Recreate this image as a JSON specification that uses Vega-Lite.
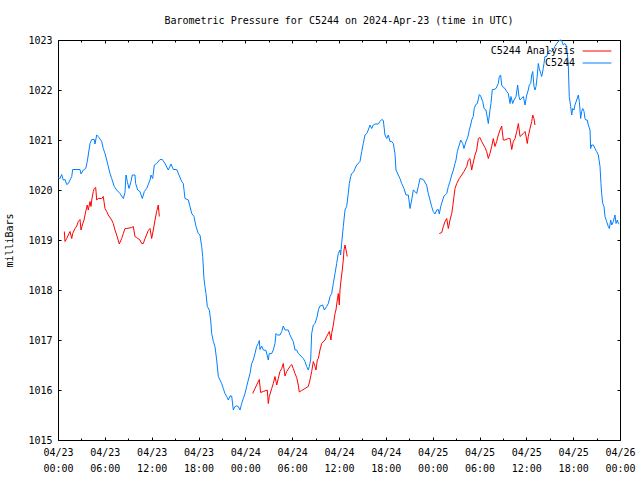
{
"$schema": "https://vega.github.io/schema/vega-lite/v6.json",
"width": 562, "height": 400,
"autosize": {"type": "none"},
"padding": {"left": 58, "top": 40, "right": 20, "bottom": 40},
"background": "white",
"title": {"text": "Barometric Pressure for C5244 on 2024-Apr-23 (time in UTC)", "font": "DejaVu Sans Mono", "fontSize": 10, "fontWeight": "normal", "color": "black", "offset": 9, "anchor": "middle"},
"config": {"view": {"stroke": "black", "strokeWidth": 1}, "font": "DejaVu Sans Mono"},
"datasets": {
"b": [
{"h":0,"v":1020.25},{"h":0.26,"v":1020.23},{"h":0.47,"v":1020.31},{"h":0.68,"v":1020.2},{"h":0.9,"v":1020.21},{"h":1.11,"v":1020.11},{"h":1.32,"v":1020.13},{"h":1.76,"v":1020.27},{"h":1.88,"v":1020.41},{"h":2.82,"v":1020.41},{"h":2.95,"v":1020.32},{"h":3.24,"v":1020.4},{"h":3.55,"v":1020.43},{"h":3.75,"v":1020.57},{"h":4.1,"v":1020.93},{"h":4.32,"v":1021.01},{"h":4.65,"v":1021.01},{"h":4.74,"v":1020.92},{"h":4.96,"v":1021.1},{"h":5.16,"v":1021.07},{"h":5.6,"v":1020.97},{"h":5.8,"v":1020.83},{"h":6.02,"v":1020.73},{"h":6.24,"v":1020.6},{"h":6.44,"v":1020.47},{"h":6.66,"v":1020.33},{"h":6.88,"v":1020.23},{"h":7.21,"v":1020.07},{"h":7.52,"v":1020.0},{"h":7.94,"v":1019.93},{"h":8.37,"v":1019.83},{"h":8.58,"v":1019.95},{"h":8.71,"v":1020.3},{"h":8.88,"v":1020.17},{"h":9.1,"v":1020.03},{"h":9.35,"v":1020.17},{"h":9.52,"v":1020.3},{"h":9.86,"v":1020.3},{"h":9.95,"v":1020.13},{"h":10.21,"v":1020.0},{"h":10.5,"v":1019.97},{"h":10.8,"v":1019.83},{"h":11.06,"v":1019.97},{"h":11.36,"v":1020.03},{"h":11.79,"v":1020.2},{"h":11.91,"v":1020.3},{"h":12.13,"v":1020.23},{"h":12.34,"v":1020.5},{"h":12.64,"v":1020.53},{"h":13.07,"v":1020.61},{"h":13.36,"v":1020.61},{"h":13.71,"v":1020.53},{"h":14.13,"v":1020.4},{"h":14.48,"v":1020.52},{"h":14.77,"v":1020.41},{"h":15.21,"v":1020.41},{"h":15.5,"v":1020.3},{"h":15.85,"v":1020.17},{"h":16.05,"v":1020.13},
{"h":16.27,"v":1019.83},{"h":16.7,"v":1019.8},{"h":16.91,"v":1019.67},{"h":17.13,"v":1019.53},{"h":17.42,"v":1019.47},{"h":17.68,"v":1019.27},{"h":17.97,"v":1019.13},{"h":18.19,"v":1019.1},{"h":18.41,"v":1018.87},{"h":18.54,"v":1018.67},{"h":18.7,"v":1018.23},{"h":18.83,"v":1018.07},{"h":18.96,"v":1017.93},{"h":19.13,"v":1017.67},{"h":19.38,"v":1017.6},{"h":19.56,"v":1017.4},{"h":19.69,"v":1017.13},{"h":19.9,"v":1016.97},{"h":20.11,"v":1016.87},{"h":20.33,"v":1016.6},{"h":20.54,"v":1016.27},{"h":20.75,"v":1016.2},{"h":20.97,"v":1016.13},{"h":21.18,"v":1016.03},{"h":21.39,"v":1015.93},{"h":21.61,"v":1015.87},{"h":21.82,"v":1015.8},{"h":22.04,"v":1015.88},{"h":22.25,"v":1015.88},{"h":22.46,"v":1015.6},{"h":22.68,"v":1015.67},{"h":22.89,"v":1015.68},{"h":23.1,"v":1015.67},{"h":23.32,"v":1015.6},{"h":23.53,"v":1015.73},{"h":23.74,"v":1015.83},{"h":23.96,"v":1015.93},{"h":24.17,"v":1016.07},{"h":24.38,"v":1016.2},{"h":24.6,"v":1016.33},{"h":24.81,"v":1016.53},{"h":25.02,"v":1016.6},{"h":25.24,"v":1016.73},{"h":25.45,"v":1016.87},{"h":25.66,"v":1016.93},{"h":25.79,"v":1016.99},{"h":25.88,"v":1016.81},{"h":26.09,"v":1016.88},{"h":26.3,"v":1016.8},{"h":26.65,"v":1016.79},{"h":26.94,"v":1016.6},{"h":27.07,"v":1016.73},{"h":27.38,"v":1016.73},{"h":27.58,"v":1016.8},{"h":27.8,"v":1016.93},{"h":27.93,"v":1017.13},{"h":28.09,"v":1017.1},{"h":28.44,"v":1017.1},{"h":28.66,"v":1017.17},{"h":28.86,"v":1017.28},{"h":29.08,"v":1017.2},{"h":29.5,"v":1017.2},{"h":29.72,"v":1017.1},{"h":30.14,"v":1016.97},{"h":30.36,"v":1016.8},
{"h":30.58,"v":1016.8},{"h":30.78,"v":1016.73},{"h":31.0,"v":1016.7},{"h":31.43,"v":1016.63},{"h":31.64,"v":1016.57},{"h":31.86,"v":1016.47},{"h":32.07,"v":1016.4},{"h":32.19,"v":1016.47},{"h":32.37,"v":1016.6},{"h":32.5,"v":1017.13},{"h":32.71,"v":1017.3},{"h":32.93,"v":1017.33},{"h":33.22,"v":1017.48},{"h":33.35,"v":1017.6},{"h":33.56,"v":1017.68},{"h":33.91,"v":1017.7},{"h":34.12,"v":1017.6},{"h":34.42,"v":1017.67},{"h":34.63,"v":1017.73},
{"h":34.85,"v":1017.87},{"h":35.06,"v":1017.93},{"h":35.27,"v":1018.13},{"h":35.49,"v":1018.33},{"h":35.7,"v":1018.53},{"h":35.91,"v":1018.73},{"h":36.13,"v":1018.8},{"h":36.21,"v":1018.7},{"h":36.34,"v":1018.93},{"h":36.55,"v":1019.27},{"h":36.77,"v":1019.6},{"h":36.98,"v":1019.67},{"h":37.19,"v":1019.93},{"h":37.32,"v":1020.13},{"h":37.5,"v":1020.27},{"h":37.63,"v":1020.33},{"h":37.92,"v":1020.37},{"h":38.05,"v":1020.43},{"h":38.27,"v":1020.5},{"h":38.69,"v":1020.57},{"h":38.91,"v":1020.77},{"h":39.11,"v":1020.93},{"h":39.33,"v":1021.1},{"h":39.55,"v":1021.13},{"h":39.75,"v":1021.2},{"h":39.97,"v":1021.3},{"h":40.19,"v":1021.23},{"h":40.39,"v":1021.3},{"h":40.61,"v":1021.32},{"h":41.03,"v":1021.32},{"h":41.25,"v":1021.37},{"h":41.47,"v":1021.41},{"h":41.68,"v":1021.39},{"h":41.89,"v":1021.1},{"h":42.11,"v":1021.03},{"h":42.32,"v":1021.1},{"h":42.53,"v":1020.97},{"h":42.75,"v":1020.97},{"h":42.96,"v":1020.93},{"h":43.17,"v":1020.73},{"h":43.3,"v":1020.4},{"h":43.6,"v":1020.3},{"h":43.81,"v":1020.23},{"h":44.03,"v":1020.13},{"h":44.33,"v":1020.03},{"h":44.58,"v":1019.9},{"h":44.88,"v":1019.9},{"h":45.1,"v":1019.63},{"h":45.31,"v":1019.8},{"h":45.52,"v":1020.0},{"h":45.74,"v":1019.97},{"h":45.95,"v":1019.93},{"h":46.16,"v":1020.07},
{"h":46.38,"v":1020.23},{"h":46.8,"v":1020.21},{"h":47.23,"v":1020.1},{"h":47.44,"v":1019.93},{"h":47.66,"v":1019.8},{"h":47.87,"v":1019.67},{"h":48.08,"v":1019.57},{"h":48.3,"v":1019.52},{"h":48.52,"v":1019.6},{"h":48.72,"v":1019.61},{"h":48.85,"v":1019.52},{"h":49.03,"v":1019.67},{"h":49.28,"v":1019.8},{"h":49.45,"v":1019.88},{"h":49.8,"v":1019.93},{"h":50.01,"v":1020.07},{"h":50.22,"v":1020.17},{"h":50.44,"v":1020.3},{"h":50.65,"v":1020.4},{"h":50.86,"v":1020.53},{"h":50.99,"v":1020.6},{"h":51.16,"v":1020.77},{"h":51.41,"v":1020.9},{"h":51.59,"v":1021.0},{"h":51.85,"v":1020.93},{"h":52.01,"v":1020.83},{"h":52.27,"v":1020.97},{"h":52.44,"v":1021.03},{"h":52.57,"v":1021.1},{"h":52.69,"v":1021.2},{"h":52.87,"v":1021.3},{"h":53.0,"v":1021.4},{"h":53.2,"v":1021.47},{"h":53.33,"v":1021.63},{"h":53.51,"v":1021.71},{"h":53.72,"v":1021.73},{"h":53.97,"v":1021.91},{"h":54.15,"v":1021.88},{"h":54.41,"v":1021.77},{"h":54.58,"v":1021.63},{"h":54.83,"v":1021.6},{"h":55.13,"v":1021.33},{"h":55.34,"v":1021.6},{"h":55.47,"v":1021.73},{"h":55.64,"v":1022.01},{"h":55.86,"v":1022.01},{"h":56.11,"v":1022.03},{"h":56.41,"v":1022.13},{"h":56.54,"v":1022.27},{"h":56.71,"v":1022.3},{"h":56.84,"v":1022.1},{"h":57.05,"v":1022.05},{"h":57.27,"v":1022.03},{"h":57.48,"v":1021.97},{"h":57.69,"v":1021.93},{"h":57.91,"v":1021.73},{"h":58.03,"v":1021.87},{"h":58.25,"v":1021.73},{"h":58.42,"v":1021.8},{"h":58.68,"v":1021.87},{"h":58.89,"v":1022.1},{"h":59.06,"v":1021.87},
{"h":59.19,"v":1021.8},{"h":59.62,"v":1021.87},{"h":59.83,"v":1021.7},{"h":60.05,"v":1021.9},{"h":60.25,"v":1022.0},{"h":60.38,"v":1022.1},{"h":60.56,"v":1022.13},{"h":60.69,"v":1022.3},{"h":60.82,"v":1022.37},{"h":60.98,"v":1022.07},{"h":61.11,"v":1022.0},{"h":61.24,"v":1022.07},{"h":61.41,"v":1022.3},{"h":61.53,"v":1022.53},{"h":61.66,"v":1022.43},{"h":61.84,"v":1022.33},{"h":61.97,"v":1022.27},{"h":62.17,"v":1022.43},{"h":62.26,"v":1022.53},{"h":62.39,"v":1022.67},{"h":62.61,"v":1022.67},{"h":62.81,"v":1022.77},{"h":63.03,"v":1022.79},{"h":63.25,"v":1022.77},{"h":63.45,"v":1022.8},{"h":63.67,"v":1022.87},{"h":63.89,"v":1022.93},{"h":64.09,"v":1022.97},{"h":64.31,"v":1023.0},{"h":64.53,"v":1022.99},{"h":64.73,"v":1022.9},{"h":64.95,"v":1022.93},{"h":65.17,"v":1022.87},{"h":65.37,"v":1022.53},{"h":65.5,"v":1021.87},{"h":65.68,"v":1021.67},{"h":65.81,"v":1021.5},{"h":65.94,"v":1021.63},{"h":66.11,"v":1021.6},{"h":66.23,"v":1021.7},{"h":66.45,"v":1021.8},{"h":66.66,"v":1021.9},{"h":66.79,"v":1021.77},{"h":66.96,"v":1021.43},{"h":67.09,"v":1021.57},{"h":67.22,"v":1021.63},{"h":67.39,"v":1021.57},{"h":67.51,"v":1021.43},{"h":67.64,"v":1021.4},{"h":67.81,"v":1021.4},{"h":67.94,"v":1021.3},{"h":68.16,"v":1021.2},{"h":68.24,"v":1020.83},{"h":68.37,"v":1020.9},{"h":68.58,"v":1020.9},{"h":68.8,"v":1020.83},{"h":69.01,"v":1020.77},{"h":69.22,"v":1020.7},{"h":69.44,"v":1020.47},{"h":69.56,"v":1020.13},{"h":69.65,"v":1019.93},{"h":69.78,"v":1019.73},{"h":69.95,"v":1019.67},{"h":70.08,"v":1019.47},{"h":70.29,"v":1019.37},{"h":70.5,"v":1019.27},{"h":70.63,"v":1019.23},{"h":70.81,"v":1019.4},{"h":70.94,"v":1019.3},{"h":71.14,"v":1019.37},{"h":71.36,"v":1019.5},{"h":71.49,"v":1019.33},{"h":71.66,"v":1019.4},{"h":71.79,"v":1019.33},{"h":71.92,"v":1019.32}
],
"r1": [
{"h":0.81,"v":1019.17},{"h":0.9,"v":1018.97},{"h":1.11,"v":1019.03},{"h":1.32,"v":1019.1},{"h":1.54,"v":1019.17},{"h":1.76,"v":1019.03},{"h":1.88,"v":1019.13},{"h":2.18,"v":1019.23},{"h":2.4,"v":1019.28},{"h":2.6,"v":1019.37},{"h":2.82,"v":1019.41},{"h":2.95,"v":1019.2},{"h":3.12,"v":1019.3},{"h":3.33,"v":1019.4},{"h":3.55,"v":1019.57},{"h":3.75,"v":1019.7},{"h":3.88,"v":1019.6},{"h":4.1,"v":1019.77},{"h":4.23,"v":1019.67},{"h":4.32,"v":1019.8},{"h":4.52,"v":1019.97},{"h":4.65,"v":1020.03},{"h":4.83,"v":1020.05},{"h":4.96,"v":1019.8},{"h":5.16,"v":1019.83},{"h":5.6,"v":1019.83},{"h":5.8,"v":1019.87},{"h":6.02,"v":1019.63},{"h":6.24,"v":1019.57},{"h":6.44,"v":1019.5},{"h":6.88,"v":1019.4},{"h":7.08,"v":1019.33},{"h":7.3,"v":1019.2},{"h":7.52,"v":1019.1},{"h":7.85,"v":1018.92},{"h":8.16,"v":1019.03},{"h":8.37,"v":1019.13},{"h":8.58,"v":1019.23},{"h":8.8,"v":1019.23},{"h":9.44,"v":1019.25},{"h":9.65,"v":1019.27},{"h":9.86,"v":1019.07},{"h":10.08,"v":1019.05},{"h":10.5,"v":1019.0},{"h":10.72,"v":1018.93},{"h":10.93,"v":1018.93},{"h":11.15,"v":1019.03},{"h":11.57,"v":1019.19},{"h":11.79,"v":1019.23},{"h":12.0,"v":1019.03},{"h":12.21,"v":1019.2},{"h":12.43,"v":1019.4},{"h":12.64,"v":1019.57},{"h":12.85,"v":1019.7},{"h":12.98,"v":1019.47}
],
"r2": [
{"h":24.94,"v":1015.93},{"h":25.24,"v":1016.03},{"h":25.45,"v":1016.1},{"h":25.79,"v":1016.21},{"h":25.96,"v":1015.95},{"h":26.3,"v":1015.97},{"h":26.65,"v":1015.99},{"h":26.81,"v":1016.0},{"h":26.94,"v":1015.73},{"h":27.07,"v":1015.87},{"h":27.38,"v":1016.03},{"h":27.58,"v":1016.13},{"h":27.8,"v":1016.27},{"h":28.02,"v":1016.1},{"h":28.22,"v":1016.23},{"h":28.44,"v":1016.37},{"h":28.66,"v":1016.43},{"h":28.86,"v":1016.53},{"h":29.08,"v":1016.28},{"h":29.3,"v":1016.37},{"h":29.72,"v":1016.47},{"h":29.94,"v":1016.51},{"h":30.14,"v":1016.43},{"h":30.36,"v":1016.33},{"h":30.58,"v":1016.25},{"h":30.78,"v":1016.1},{"h":30.91,"v":1015.96},{"h":31.22,"v":1015.99},{"h":31.64,"v":1016.03},{"h":32.07,"v":1016.07},{"h":32.28,"v":1016.2},{"h":32.5,"v":1016.37},{"h":32.71,"v":1016.57},{"h":32.93,"v":1016.47},{"h":33.05,"v":1016.4},{"h":33.22,"v":1016.6},{"h":33.35,"v":1016.63},{"h":33.56,"v":1016.8},{"h":33.78,"v":1016.93},{"h":34.21,"v":1017.0},{"h":34.42,"v":1017.07},{"h":34.76,"v":1017.17},{"h":34.97,"v":1017.0},{"h":35.06,"v":1017.13},{"h":35.27,"v":1017.3},{"h":35.49,"v":1017.53},{"h":35.61,"v":1017.6},{"h":35.78,"v":1017.8},{"h":35.91,"v":1017.93},{"h":36.04,"v":1017.7},{"h":36.13,"v":1018.0},{"h":36.26,"v":1018.2},{"h":36.42,"v":1018.4},{"h":36.55,"v":1018.6},{"h":36.64,"v":1018.8},{"h":36.77,"v":1018.9},{"h":36.9,"v":1018.8},{"h":36.98,"v":1018.73},{"h":37.06,"v":1018.67}
],
"r3": [
{"h":48.85,"v":1019.13},{"h":49.16,"v":1019.15},{"h":49.37,"v":1019.27},{"h":49.58,"v":1019.37},{"h":49.8,"v":1019.43},{"h":50.01,"v":1019.23},{"h":50.22,"v":1019.4},{"h":50.44,"v":1019.53},{"h":50.57,"v":1019.67},{"h":50.73,"v":1019.87},{"h":50.86,"v":1020.03},{"h":51.08,"v":1020.13},{"h":51.41,"v":1020.23},{"h":51.72,"v":1020.3},{"h":52.01,"v":1020.37},{"h":52.36,"v":1020.47},{"h":52.57,"v":1020.6},{"h":52.78,"v":1020.63},{"h":53.0,"v":1020.4},{"h":53.13,"v":1020.5},{"h":53.42,"v":1020.7},{"h":53.64,"v":1020.8},{"h":53.85,"v":1021.03},{"h":54.06,"v":1021.05},{"h":54.28,"v":1020.97},{"h":54.7,"v":1020.85},{"h":54.92,"v":1020.77},{"h":55.13,"v":1020.63},{"h":55.34,"v":1020.73},{"h":55.56,"v":1020.87},{"h":55.77,"v":1021.03},{"h":55.98,"v":1020.87},{"h":56.2,"v":1020.97},{"h":56.41,"v":1021.1},{"h":56.63,"v":1021.2},{"h":56.84,"v":1021.28},{"h":57.05,"v":1021.0},{"h":57.27,"v":1021.0},{"h":57.69,"v":1021.03},{"h":57.91,"v":1021.03},{"h":58.13,"v":1020.81},{"h":58.33,"v":1020.97},{"h":58.55,"v":1021.03},{"h":58.77,"v":1021.17},{"h":58.98,"v":1021.33},{"h":59.19,"v":1021.07},{"h":59.41,"v":1021.1},{"h":59.62,"v":1021.13},{"h":59.83,"v":1021.17},{"h":59.96,"v":1021.08},{"h":60.12,"v":1020.93},{"h":60.25,"v":1021.07},{"h":60.47,"v":1021.23},{"h":60.69,"v":1021.37},{"h":60.82,"v":1021.5},{"h":60.98,"v":1021.43},{"h":61.11,"v":1021.3}
]
},
"layer": [
{
"data": {"name": "b"},
"mark": {"type": "line", "strokeWidth": 1},
"encoding": {
"x": {"field": "h", "type": "quantitative", "scale": {"domain": [0, 72], "nice": false, "zero": false},
 "axis": {"orient": "bottom", "title": null, "domain": false, "grid": false, "values": [0,3,6,9,12,15,18,21,24,27,30,33,36,39,42,45,48,51,54,57,60,63,66,69,72],
  "tickColor": "black", "tickSize": {"condition": {"test": "datum.value % 6 === 0", "value": -3}, "value": -2},
  "labelExpr": "datum.value % 6 === 0 ? [utcFormat(utc(2024,3,23) + datum.value*3600000, '%m/%d'), utcFormat(utc(2024,3,23) + datum.value*3600000, '%H:%M')] : ''",
  "labelFont": "DejaVu Sans Mono", "labelFontSize": 10, "labelColor": "black", "labelLineHeight": 16, "labelPadding": 10, "labelOverlap": false, "labelFlush": false, "labelBound": false}},
"y": {"field": "v", "type": "quantitative", "scale": {"domain": [1015, 1023], "nice": false, "zero": false},
 "axis": {"orient": "left", "title": "milliBars", "titleFont": "DejaVu Sans Mono", "titleFontSize": 10, "titleFontWeight": "normal", "titleColor": "black", "titlePadding": 13,
  "domain": false, "grid": false, "values": [1015,1016,1017,1018,1019,1020,1021,1022,1023], "format": "d", "tickColor": "black", "tickSize": -3,
  "labelFont": "DejaVu Sans Mono", "labelFontSize": 10, "labelColor": "black", "labelPadding": 9, "labelOverlap": false, "labelFlush": false}},
"color": {"datum": "C5244", "type": "nominal", "scale": {"domain": ["C5244 Analysis", "C5244"], "range": ["#ff0000", "#0080ff"]},
 "legend": {"orient": "top-right", "offset": 6, "title": null, "symbolType": "M-3.6,0H3.6", "symbolSize": 64, "symbolStrokeWidth": 1, "labelFont": "DejaVu Sans Mono", "labelFontSize": 10, "labelColor": "black", "labelAlign": "right", "labelOffset": -27, "padding": 0, "rowPadding": 2}}
}
},
{
"data": {"name": "r1"},
"mark": {"type": "line", "strokeWidth": 1},
"encoding": {
"x": {"field": "h", "type": "quantitative", "axis": {"orient": "top", "title": null, "domain": false, "grid": false, "labels": false, "values": [0,3,6,9,12,15,18,21,24,27,30,33,36,39,42,45,48,51,54,57,60,63,66,69,72], "tickColor": "black", "tickSize": {"condition": {"test": "datum.value % 6 === 0", "value": -3}, "value": -2}}},
"y": {"field": "v", "type": "quantitative", "axis": {"orient": "right", "title": null, "domain": false, "grid": false, "labels": false, "values": [1015,1016,1017,1018,1019,1020,1021,1022,1023], "tickColor": "black", "tickSize": -3}},
"color": {"datum": "C5244 Analysis", "type": "nominal"}
}
},
{
"data": {"name": "r2"},
"mark": {"type": "line", "strokeWidth": 1},
"encoding": {
"x": {"field": "h", "type": "quantitative", "axis": null},
"y": {"field": "v", "type": "quantitative", "axis": null},
"color": {"datum": "C5244 Analysis", "type": "nominal"}
}
},
{
"data": {"name": "r3"},
"mark": {"type": "line", "strokeWidth": 1},
"encoding": {
"x": {"field": "h", "type": "quantitative", "axis": null},
"y": {"field": "v", "type": "quantitative", "axis": null},
"color": {"datum": "C5244 Analysis", "type": "nominal"}
}
}
],
"resolve": {"axis": {"x": "independent", "y": "independent"}}
}
